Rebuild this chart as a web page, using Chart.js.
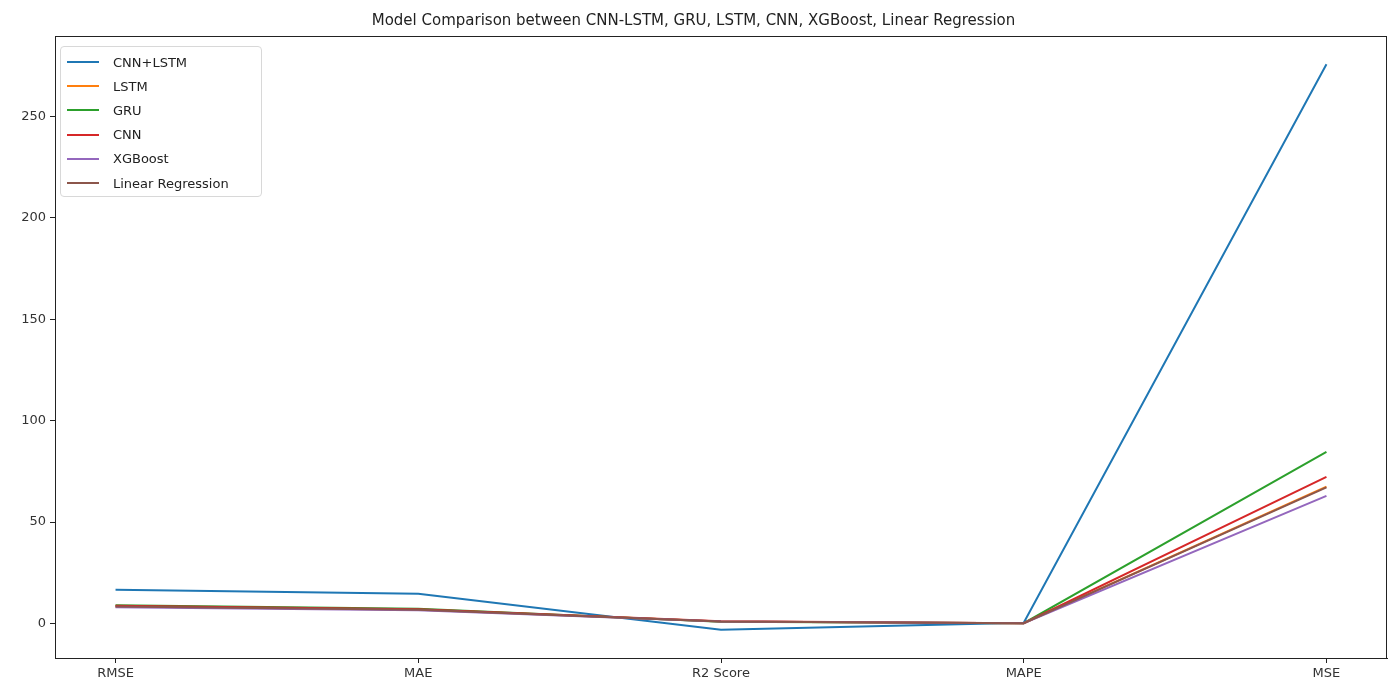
<!DOCTYPE html>
<html>
<head>
<meta charset="utf-8">
<script src="https://cdn.jsdelivr.net/npm/chart.js@4.4.1/dist/chart.umd.min.js"></script>
<style>
  html, body { margin: 0; padding: 0; background: #fff; }
  #wrap { position: relative; width: 1389px; height: 683px; }
  canvas { display: block; }
  #legend {
    position: absolute; left: 60px; top: 46px; width: 202px; height: 151px;
    box-sizing: border-box; border: 1px solid #d8d8d8; border-radius: 4px;
    background: rgba(255,255,255,0.85);
    font-family: "DejaVu Sans", sans-serif; font-size: 13px; color: #222;
    padding-top: 3px;
  }
  .item { height: 24.2px; display: flex; align-items: center; }
  .swatch { width: 32px; height: 0; border-top: 2px solid; margin-left: 6px; margin-right: 14px; }
</style>
</head>
<body>
<div id="wrap">
  <canvas id="c" width="1389" height="683"></canvas>
  <div id="legend"></div>
</div>
<script>
const titleText = 'Model Comparison between CNN-LSTM, GRU, LSTM, CNN, XGBoost, Linear Regression';
const categories = ['RMSE', 'MAE', 'R2 Score', 'MAPE', 'MSE'];
const seriesNames = ['CNN+LSTM', 'LSTM', 'GRU', 'CNN', 'XGBoost', 'Linear Regression'];
const cnnLstm = [16.6, 14.7, -3.1, 0.3, 275.8];
const lstm    = [8.4, 6.9, 0.9, 0.1, 67.5];
const gru     = [9.0, 7.2, 0.8, 0.1, 84.6];
const cnn     = [8.7, 7.0, 1.1, 0.1, 72.3];
const xgboost = [8.0, 6.5, 0.9, 0.1, 62.9];
const linReg  = [8.3, 6.7, 0.9, 0.1, 67.1];
const yTicks = [0, 50, 100, 150, 200, 250];
const colors = ['#1f77b4', '#ff7f0e', '#2ca02c', '#d62728', '#9467bd', '#8c564b'];

const allSeries = [cnnLstm, lstm, gru, cnn, xgboost, linReg];
const datasets = allSeries.map((vals, i) => ({
  label: seriesNames[i],
  data: vals.map((v, j) => ({ x: j, y: v })),
  borderColor: colors[i],
  backgroundColor: colors[i],
  borderWidth: 2,
  pointRadius: 0,
  tension: 0,
  fill: false,
  order: allSeries.length - 1 - i
}));

// y range as matplotlib auto-margins (5%)
const allVals = allSeries.flat();
const yMinD = Math.min(...allVals), yMaxD = Math.max(...allVals);
const yPad = (yMaxD - yMinD) * 0.05;

const frame = {
  id: 'frame',
  afterDraw(chart) {
    const a = chart.chartArea, ctx = chart.ctx;
    ctx.save();
    ctx.strokeStyle = '#222';
    ctx.lineWidth = 1;
    ctx.strokeRect(Math.round(a.left) + 0.5, Math.round(a.top) + 0.5,
                   Math.round(a.right - a.left) - 1, Math.round(a.bottom - a.top));
    ctx.restore();
  }
};

const tickFont = { family: 'DejaVu Sans', size: 13 };
new Chart(document.getElementById('c'), {
  type: 'line',
  data: { datasets },
  options: {
    responsive: false,
    animation: false,
    layout: { padding: { left: 0, right: 2, top: 0, bottom: 0 } },
    plugins: {
      legend: { display: false },
      tooltip: { enabled: false },
      title: {
        display: true, text: titleText, color: '#222',
        font: { family: 'DejaVu Sans', size: 15, weight: 'normal' },
        padding: { top: 12, bottom: 6 }
      }
    },
    scales: {
      x: {
        type: 'linear', min: -0.2, max: 4.2,
        afterBuildTicks: s => { s.ticks = categories.map((_, i) => ({ value: i })); },
        afterFit: s => { s.height = 25; },
        ticks: { callback: v => categories[v] ?? '', color: '#333', font: tickFont, padding: 3, maxRotation: 0, autoSkip: false },
        grid: { display: true, drawOnChartArea: false, drawTicks: true, tickLength: 5, color: '#222' },
        border: { display: true, color: '#222', width: 1 }
      },
      y: {
        min: yMinD - yPad, max: yMaxD + yPad,
        afterBuildTicks: s => { s.ticks = yTicks.map(v => ({ value: v })); },
        afterFit: s => { s.width = 55; },
        ticks: { color: '#333', font: tickFont, padding: 4 },
        grid: { display: true, drawOnChartArea: false, drawTicks: true, tickLength: 5, color: '#222' },
        border: { display: true, color: '#222', width: 1 }
      }
    }
  },
  plugins: [frame]
});

const lg = document.getElementById('legend');
seriesNames.forEach((n, i) => {
  const d = document.createElement('div');
  d.className = 'item';
  d.innerHTML = '<span class="swatch" style="border-color:' + colors[i] + '"></span><span>' + n + '</span>';
  lg.appendChild(d);
});
</script>
</body>
</html>
